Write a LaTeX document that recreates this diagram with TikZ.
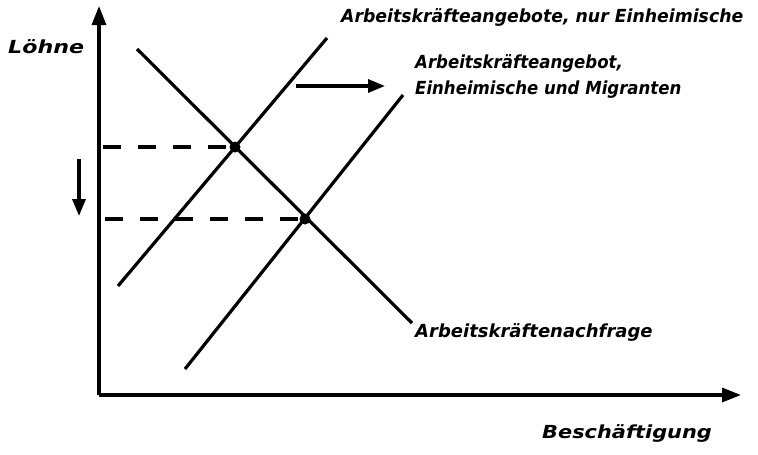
\documentclass[tikz,border=0pt]{standalone}
\usepackage{fontspec}
\setmainfont{DejaVu Sans}
\usetikzlibrary{arrows.meta}
\tikzset{
  curve/.style={line width=3.2pt},
  axis/.style={line width=3.2pt,-{Triangle[width=14pt,length=19pt]}},
  shiftarrow/.style={line width=3.2pt,-{Triangle[width=13pt,length=17pt]}},
  guide/.style={line width=3.2pt,dash pattern=on 18pt off 17pt},
  eqdot/.style={circle,fill=black,inner sep=0pt,minimum size=11pt},
  lbl/.style={font=\fontsize{18}{26}\selectfont\bfseries\itshape,inner sep=0pt,align=left}
}
\begin{document}
\begin{tikzpicture}[x=1pt,y=-1pt]
\useasboundingbox (0,0) rectangle (758,455);
% axes
\coordinate (O) at (99,395);
\coordinate (Ytip) at (99,6);
\coordinate (Xtip) at (741,395);
\draw[axis] (O) -- (Ytip);
\draw[axis] (O) -- (Xtip);
% curves
\coordinate (D1) at (137,49);
\coordinate (D2) at (412,323);
\coordinate (S1a) at (118,286);
\coordinate (S1b) at (327,38);
\coordinate (S2a) at (185,369);
\coordinate (S2b) at (403,95);
\draw[curve] (D1) -- (D2);
\draw[curve] (S1a) -- (S1b);
\draw[curve] (S2a) -- (S2b);
% equilibria
\node[eqdot] (E1) at (235,147) {};
\node[eqdot] (E2) at (305,219) {};
\coordinate (W1) at (103,147);
\coordinate (W2) at (105,219);
\draw[guide] (W1) -- (E1);
\draw[guide] (W2) -- (E2);
% shift arrows
\coordinate (R1) at (296,86);
\coordinate (R2) at (385,86);
\draw[shiftarrow] (R1) -- (R2);
\coordinate (Dn1) at (79,159);
\coordinate (Dn2) at (79,216);
\draw[shiftarrow] (Dn1) -- (Dn2);
% labels
\node[lbl,anchor=base west] (lw) at (8,53) {\scalebox{1.23}[1]{Löhne}};
\node[lbl,anchor=base west] (lb) at (542,438) {\scalebox{1.16}[1]{Beschäftigung}};
\node[lbl,anchor=base west] (ls1) at (341,22) {\scalebox{0.96}[1]{Arbeitskräfteangebote, nur Einheimische}};
\node[lbl,anchor=base west] (ls2) at (415,94) {\scalebox{0.92}[1]{Arbeitskräfteangebot,}\\\scalebox{0.92}[1]{Einheimische und Migranten}};
\node[lbl,anchor=base west] (ld) at (415,337) {Arbeitskräftenachfrage};
\end{tikzpicture}
\end{document}
